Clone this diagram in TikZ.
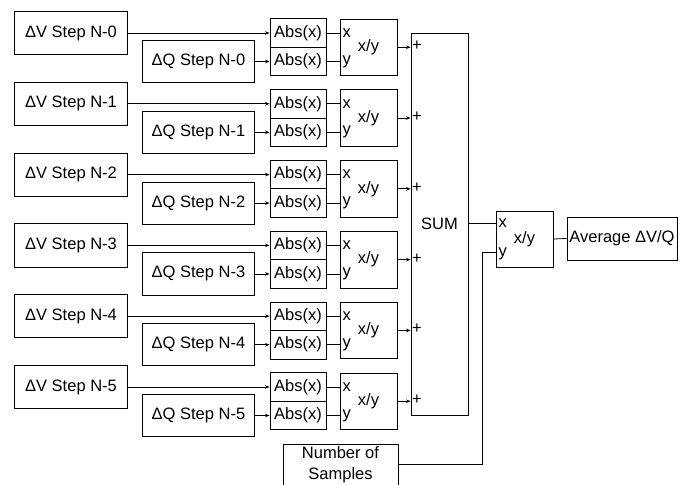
\documentclass[tikz,border=0pt]{standalone}
\usepackage{fontspec}
\setmainfont{Liberation Sans}
\usetikzlibrary{arrows.meta}
\begin{document}
\begin{tikzpicture}[x=1bp,y=-1bp,
  txt/.style={font=\fontsize{16.5bp}{20.5bp}\selectfont},
  box/.style={draw, line width=0.8bp, inner sep=0pt, txt},
  lbl/.style={inner sep=0pt, txt},
  conn/.style={line width=0.8bp},
  arr/.style={conn, -{Stealth[length=4.5bp,width=3.5bp]}}]
\useasboundingbox (0,0) rectangle (686,485);
\node[box, minimum width=57bp, minimum height=382bp] (sum) at (439.5,224) {SUM};
\foreach \i in {0,...,5}{
  \pgfmathsetmacro{\d}{\i*70.8}
  \node[box, minimum width=113bp, minimum height=43bp] (dv\i) at (71,33+\d) {ΔV Step N-\i};
  \node[box, minimum width=112bp, minimum height=42bp] (dq\i) at (198.5,61.5+\d) {ΔQ Step N-\i};
  \node[box, minimum width=56bp, minimum height=28.5bp] (absa\i) at (298,33+\d) {Abs(x)};
  \node[box, minimum width=56bp, minimum height=28.5bp] (absb\i) at (298,61.5+\d) {Abs(x)};
  \node[box, minimum width=57bp, minimum height=56.5bp] (xy\i) at (368.5,47.25+\d) {x/y};
  \node[lbl, anchor=west] (xl\i) at (342.5,33+\d) {x};
  \node[lbl, anchor=west] (yl\i) at (342.5,61.5+\d) {y};
  \node[lbl, anchor=west] (pl\i) at (412,46+\d) {+};
  \draw[arr] (dv\i.east) -- (dv\i.east -| absa\i.west);
  \draw[arr] (dq\i.east) -- (dq\i.east -| absb\i.west);
  \draw[conn] (absa\i.east) -- (absa\i.east -| xy\i.west);
  \draw[conn] (absb\i.east) -- (absb\i.east -| xy\i.west);
  \draw[arr] (xy\i.east) -- (xy\i.east -| sum.west);
}
\node[box, minimum width=57bp, minimum height=56bp] (fxy) at (524.5,239) {x/y};
\node[lbl, anchor=west] (fx) at (498.5,223) {x};
\node[lbl, anchor=west] (fy) at (498.5,254) {y};
\node[box, minimum width=110bp, minimum height=43bp] (avg) at (622,238.5) {Average ΔV/Q};
\node[box, minimum width=115bp, minimum height=41bp, align=center] (ns) at (340.5,464.5) {Number of\\Samples};
\coordinate (bend) at (482,252);
\draw[conn] (sum.east |- fx.west) -- (fxy.west |- fx.west);
\draw[conn] (fxy.east) -- (avg.west);
\draw[conn] (ns.east) -| (bend) -- (fxy.west |- bend);
\end{tikzpicture}
\end{document}
